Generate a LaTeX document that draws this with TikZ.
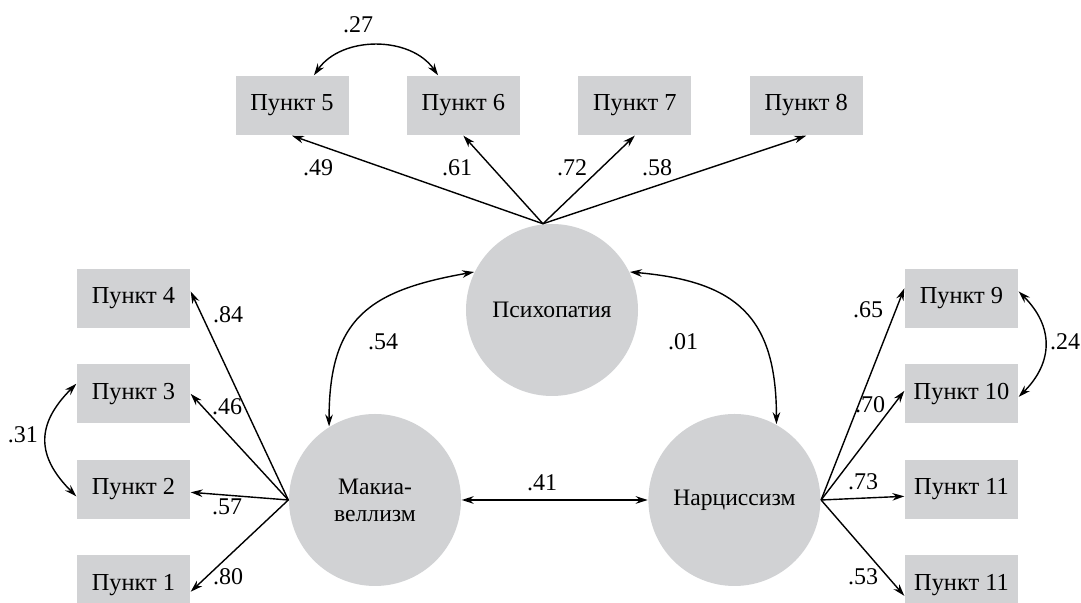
\documentclass[tikz,border=0pt]{standalone}
\usepackage{fontspec}
\setmainfont{Liberation Serif}
\usetikzlibrary{positioning}
\usetikzlibrary{arrows.meta}
\definecolor{fillgray}{RGB}{209,210,212}

\tikzset{
  item/.style={fill=fillgray,minimum width=56.5pt,minimum height=29.5pt,inner sep=0pt,font=\fontsize{12.2}{14}\selectfont},
  factor/.style={circle,fill=fillgray,minimum size=86pt,inner sep=0pt,align=center,font=\fontsize{11.8}{13.5}\selectfont},
  coef/.style={inner sep=0pt,font=\fontsize{12}{14}\selectfont},
}

\begin{document}
\begin{tikzpicture}[x=0.5pt,y=0.5pt,line width=0.7pt,>={Stealth[length=6pt,width=3.8pt]}]
\useasboundingbox (0,0) rectangle (1081,603);

% factors
\node [factor,at={(552,293)}] (psy) {Психопатия};
\node [factor,at={(375,103)}] (mak) {Макиа-\\веллизм};
\node [factor,right=93pt,at=(mak.east)] (narc) {Нарциссизм};

% items
\node [item,at={(292,497.5)}] (p5) {Пункт 5};
\node [item,right=28.5pt,at=(p5.east)] (p6) {Пункт 6};
\node [item,right=28.5pt,at=(p6.east)] (p7) {Пункт 7};
\node [item,right=28.5pt,at=(p7.east)] (p8) {Пункт 8};

\node [item,at={(133.5,304.5)}] (p4) {Пункт 4};
\node [item,below=17.5pt,at=(p4.south)] (p3) {Пункт 3};
\node [item,below=17.5pt,at=(p3.south)] (p2) {Пункт 2};
\node [item,below=17.5pt,at=(p2.south)] (p1) {Пункт 1};

\node [item,at={(961.5,304.5)}] (p9) {Пункт 9};
\node [item,below=17.5pt,at=(p9.south)] (p10) {Пункт 10};
\node [item,below=17.5pt,at=(p10.south)] (p11) {Пункт 11};
\node [item,below=17.5pt,at=(p11.south)] (p12) {Пункт 11};

% loadings
\draw [->] (psy.96) -- (p5.south);
\draw [->] (psy.96) -- (p6.south);
\draw [->] (psy.96) -- (p7.south);
\draw [->] (psy.96) -- (p8.south);

\draw [->] (mak.west) -- (p4.7);
\draw [->] (mak.west) -- (p3.east);
\draw [->] (mak.west) -- (p2.-3);
\draw [->] (mak.west) -- (p1.-7);

\draw [->] (narc.east) -- (p9.170);
\draw [->] (narc.east) -- (p10.177);
\draw [->] (narc.east) -- (p11.187);
\draw [->] (narc.east) -- (p12.191);

% correlations
\draw [<->] (p5.54) to [out=55,in=125] (p6.130);
\draw [<->] (p3.170) to [out=225,in=135,looseness=1.3] (p2.187);
\draw [<->] (p9.7) to [out=-45,in=45,looseness=1.2] (p10.-3);
\draw [<->] (mak.122) to [out=90,in=190,looseness=1.3] (psy.154);
\draw [<->] (psy.26) to [out=-5,in=90,looseness=1.3] (narc.61);
\draw [<->] (mak) -- (narc);

% coefficients
\node [coef,at={(358,578)}] (c56) {.27};
\node [coef,at={(318,435)}] (c5) {.49};
\node [coef,at={(457,435)}] (c6) {.61};
\node [coef,at={(572,435)}] (c7) {.72};
\node [coef,at={(657,435)}] (c8) {.58};
\node [coef,at={(228,288)}] (c4) {.84};
\node [coef,at={(227,196)}] (c3) {.46};
\node [coef,at={(227,96)}] (c2) {.57};
\node [coef,at={(228,26)}] (c1) {.80};
\node [coef,at={(23,168)}] (c23) {.31};
\node [coef,at={(383,261)}] (cmp) {.54};
\node [coef,at={(683,261)}] (cpn) {.01};
\node [coef,at={(542,120)}] (cmn) {.41};
\node [coef,at={(868,293)}] (c9) {.65};
\node [coef,at={(870,198)}] (c10) {.70};
\node [coef,at={(863,121)}] (c11) {.73};
\node [coef,at={(863,26)}] (c12) {.53};
\node [coef,at={(1065,261)}] (c910) {.24};
\end{tikzpicture}
\end{document}
